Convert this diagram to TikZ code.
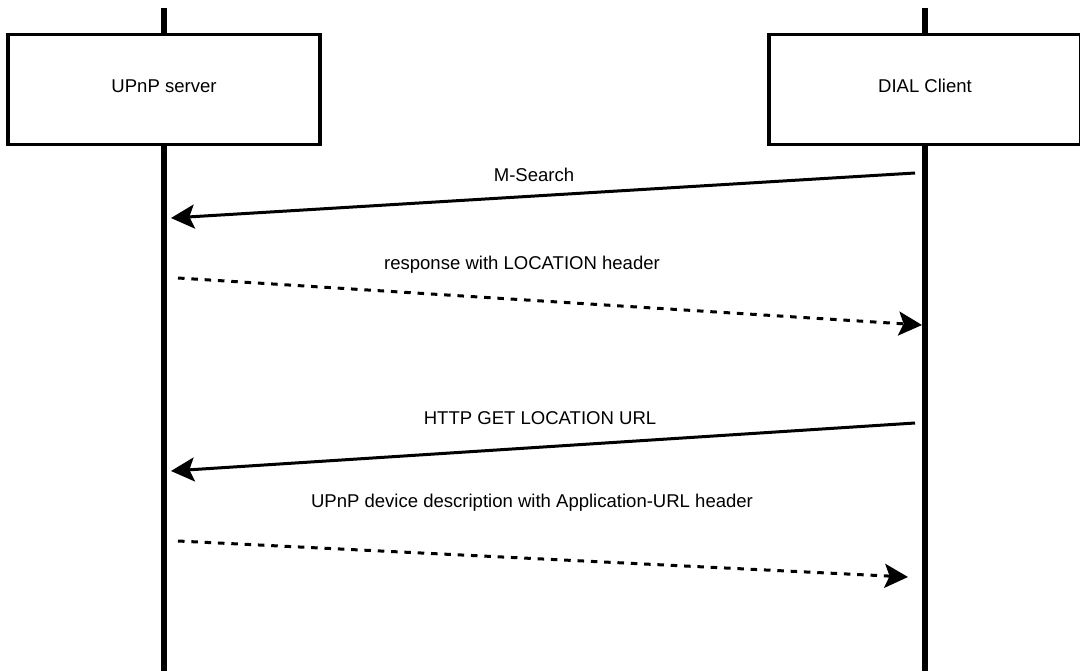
\documentclass[tikz,border=0pt]{standalone}
\usepackage{fontspec}
\setmainfont{Liberation Sans}
\usetikzlibrary{arrows.meta}
\tikzstyle{party} = [draw, fill=white, line width=2.5pt, minimum width=234pt, minimum height=82.5pt, text height=10pt, text depth=6.1pt]
\tikzstyle{lifeline} = [line width=4pt]
\tikzstyle{msg} = [line width=2.25pt, -{Stealth[length=17.5pt, width=18pt, inset=3.7pt]}]
\tikzstyle{reply} = [msg, dash pattern=on 4.9pt off 5.1pt]
\tikzstyle{msglabel} = [anchor=base]

\begin{document}
\begin{tikzpicture}[x=0.75pt, y=-0.75pt, font=\fontsize{13.9pt}{16pt}\selectfont]
	\useasboundingbox (0,0) rectangle (1080,671);
	
	% lifelines
	\coordinate (servertop) at (164,8);
	\coordinate (serverbot) at (164,671);
	\coordinate (clienttop) at (925,8);
	\coordinate (clientbot) at (925,671);
	\draw [lifeline] (servertop) -- (serverbot);
	\draw [lifeline] (clienttop) -- (clientbot);
	
	\node [party] (server) at (164,89.5) {UPnP server};
	\node [party, right of=server, node distance=570.75pt] (client) {DIAL Client};
	
	% message ends
	\coordinate (m1s) at (915,173);
	\coordinate (m1e) at (171,218);
	\coordinate (m2s) at (178,278);
	\coordinate (m2e) at (922,325);
	\coordinate (m3s) at (915,423);
	\coordinate (m3e) at (171,471);
	\coordinate (m4s) at (178,541);
	\coordinate (m4e) at (908,577);
	
	\draw [msg] (m1s) -- (m1e);
	\draw [reply] (m2s) -- (m2e);
	\draw [msg] (m3s) -- (m3e);
	\draw [reply] (m4s) -- (m4e);
	
	\node [msglabel] (m1lbl) at (534,181) {M-Search};
	\node [msglabel] (m2lbl) at (522,269) {response with LOCATION header};
	\node [msglabel] (m3lbl) at (540,424) {HTTP GET LOCATION URL};
	\node [msglabel] (m4lbl) at (532,507) {UPnP device description with Application-URL header};
	
\end{tikzpicture}
\end{document}
